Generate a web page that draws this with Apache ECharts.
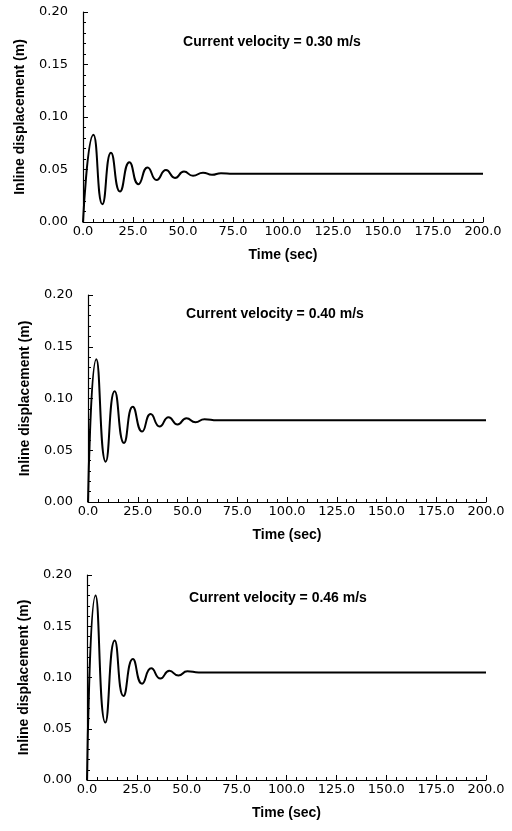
<!DOCTYPE html>
<html>
<head>
<meta charset="utf-8">
<script src="https://cdn.jsdelivr.net/npm/echarts@6/dist/echarts.min.js"></script>
<style>
html,body{margin:0;padding:0;background:#fff;}
#chart{width:512px;height:831px;}
</style>
</head>
<body>
<div id="chart"></div>
<script>
// ---- data (peaks / troughs of each response) ----
var velocityTitles = ['Current velocity = 0.30 m/s', 'Current velocity = 0.40 m/s', 'Current velocity = 0.46 m/s'];
var xTickValues = [0, 25, 50, 75, 100, 125, 150, 175, 200];
var yTickValues = [0, 0.05, 0.10, 0.15, 0.20];

var time030 = [0, 5.2, 9.7, 14, 18.5, 23.2, 27.7, 32.3, 36.8, 41.5, 46, 50.5, 55, 60, 64.5, 69, 75, 200];
var disp030 = [0, 0.083, 0.017, 0.066, 0.029, 0.057, 0.036, 0.052, 0.040, 0.0495, 0.042, 0.048, 0.044, 0.047, 0.045, 0.0465, 0.046, 0.046];

var time040 = [0, 4.2, 8.9, 13.4, 18.1, 22.5, 27.2, 31.5, 36, 40.5, 45, 49.5, 54, 58.5, 65, 200];
var disp040 = [0, 0.138, 0.039, 0.107, 0.057, 0.092, 0.068, 0.085, 0.073, 0.082, 0.075, 0.081, 0.077, 0.080, 0.079, 0.079];

var time046 = [0, 4.3, 9.2, 13.9, 18.3, 23, 27.6, 32.2, 36.8, 41.3, 45.8, 50.3, 56, 200];
var disp046 = [0, 0.180, 0.056, 0.136, 0.082, 0.118, 0.094, 0.109, 0.099, 0.1065, 0.102, 0.106, 0.105, 0.105];

function pairs(ts, vs) { return ts.map(function (t, i) { return [t, vs[i]]; }); }
var seriesData = [pairs(time030, disp030), pairs(time040, disp040), pairs(time046, disp046)];

// ---- layout ----
var grids = [
  { left: 83, right: 29, top: 12, height: 210 },
  { left: 88, right: 26, top: 295, height: 207 },
  { left: 87, right: 26, top: 575, height: 205 }
];
var titlePos = [[272, 42], [275, 314], [278, 598]];

var BOLD = '"Liberation Sans", Arial, sans-serif';
var TICKF = '"DejaVu Sans", sans-serif';

var xAxes = [], yAxes = [], series = [], graphics = [];
for (var i = 0; i < 3; i++) {
  xAxes.push({
    gridIndex: i, type: 'value', min: xTickValues[0], max: xTickValues[xTickValues.length - 1], interval: xTickValues[1] - xTickValues[0],
    name: 'Time (sec)', nameLocation: 'middle', nameGap: 26,
    nameTextStyle: { fontFamily: BOLD, fontWeight: 'bold', fontSize: 14, color: '#000' },
    axisLine: { show: true, onZero: false, lineStyle: { color: '#000', width: 1.2 } },
    axisTick: { show: true, inside: true, length: 5, lineStyle: { color: '#000' } },
    minorTick: { show: true, splitNumber: 5, length: 3, lineStyle: { color: '#000' } },
    splitLine: { show: false },
    axisLabel: { fontFamily: TICKF, fontSize: 13, color: '#000', margin: 3, formatter: function (v) { return v.toFixed(1); } }
  });
  yAxes.push({
    gridIndex: i, type: 'value', min: yTickValues[0], max: yTickValues[yTickValues.length - 1], interval: 0.05,
    name: 'Inline displacement (m)', nameLocation: 'middle', nameGap: 56,
    nameTextStyle: { fontFamily: BOLD, fontWeight: 'bold', fontSize: 14, color: '#000' },
    axisLine: { show: true, onZero: false, lineStyle: { color: '#000', width: 1.2 } },
    axisTick: { show: true, inside: true, length: 5, lineStyle: { color: '#000' } },
    minorTick: { show: true, splitNumber: 5, length: 3, lineStyle: { color: '#000' } },
    splitLine: { show: false },
    axisLabel: { fontFamily: TICKF, fontSize: 13, color: '#000', margin: 15, formatter: function (v) { return v.toFixed(2); } }
  });
  series.push({
    type: 'line', xAxisIndex: i, yAxisIndex: i, data: seriesData[i],
    showSymbol: false, smooth: 0.55, lineStyle: { color: '#000', width: 2 }, animation: false
  });
  graphics.push({
    type: 'text', x: titlePos[i][0], y: titlePos[i][1],
    style: { text: velocityTitles[i], textAlign: 'center', textVerticalAlign: 'middle', font: 'bold 14px ' + BOLD, fill: '#000' }
  });
}

var chart = echarts.init(document.getElementById('chart'), null, { renderer: 'canvas' });
chart.setOption({
  animation: false,
  backgroundColor: '#fff',
  grid: grids,
  xAxis: xAxes,
  yAxis: yAxes,
  series: series,
  graphic: graphics
});
</script>
</body>
</html>
